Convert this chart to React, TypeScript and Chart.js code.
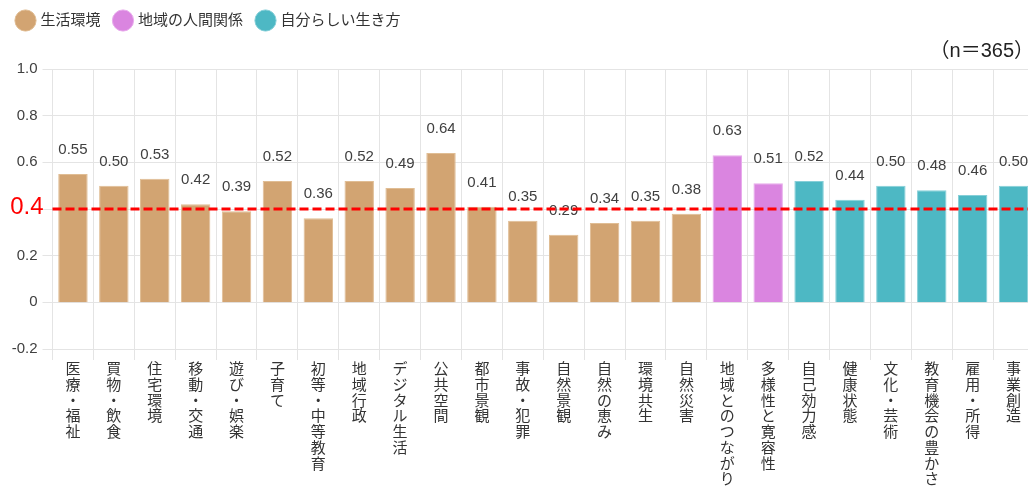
import React, { useEffect, useRef } from "react";
import { Chart, registerables } from "chart.js";

Chart.register(...registerables);

// ---- data ----
const seriesNames = ["生活環境", "地域の人間関係", "自分らしい生き方"];
const lifeCategories = [
  "医療・福祉", "買物・飲食", "住宅環境", "移動・交通", "遊び・娯楽", "子育て",
  "初等・中等教育", "地域行政", "デジタル生活", "公共空間", "都市景観", "事故・犯罪",
  "自然景観", "自然の恵み", "環境共生", "自然災害",
];
const lifeValues = [0.55, 0.5, 0.53, 0.42, 0.39, 0.52, 0.36, 0.52, 0.49, 0.64, 0.41, 0.35, 0.29, 0.34, 0.35, 0.38];
const relationCategories = ["地域とのつながり", "多様性と寛容性"];
const relationValues = [0.63, 0.51];
const selfCategories = ["自己効力感", "健康状態", "文化・芸術", "教育機会の豊かさ", "雇用・所得", "事業創造"];
const selfValues = [0.52, 0.44, 0.5, 0.48, 0.46, 0.5];
const seriesColors = ["#D2A472", "#DA85E0", "#4DB8C4"];
const seriesBorders = ["#E0BD94", "#E8ABEC", "#86CFD8"];
const thresholdValue = 0.4;
const sampleNote = "（n＝365）";
const yMin = -0.2;
const yMax = 1.0;
const yStep = 0.2;

const FONT = '"Liberation Sans", "Noto Sans CJK JP", sans-serif';

export default function App() {
  const canvasRef = useRef<HTMLCanvasElement | null>(null);

  useEffect(() => {
    if (!canvasRef.current) return;
    const categories = [...lifeCategories, ...relationCategories, ...selfCategories];
    const groups = [lifeValues, relationValues, selfValues];
    const offsets = [0, lifeValues.length, lifeValues.length + relationValues.length];
    const datasets = groups.map((vals, gi) => {
      const data: (number | null)[] = categories.map(() => null);
      vals.forEach((v, i) => {
        data[offsets[gi] + i] = v;
      });
      return {
        label: seriesNames[gi],
        data,
        backgroundColor: seriesColors[gi],
        borderColor: seriesBorders[gi],
        borderWidth: 1,
        grouped: false,
        categoryPercentage: 0.8,
        barPercentage: 0.9,
      };
    });

    const overlay = {
      id: "overlay",
      afterDatasetsDraw(chart: any) {
        const ctx = chart.ctx;
        ctx.save();
        // value labels
        ctx.font = `15px ${FONT}`;
        ctx.fillStyle = "#404040";
        ctx.textAlign = "center";
        ctx.textBaseline = "middle";
        chart.data.datasets.forEach((ds: any, di: number) => {
          const meta = chart.getDatasetMeta(di);
          meta.data.forEach((bar: any, i: number) => {
            const v = ds.data[i];
            if (v === null || v === undefined) return;
            ctx.fillText(v.toFixed(2), bar.x, bar.y - 24);
          });
        });
        // threshold line
        const y = chart.scales.y.getPixelForValue(thresholdValue);
        const { left, right } = chart.chartArea;
        ctx.strokeStyle = "#FF0000";
        ctx.lineWidth = 3;
        ctx.setLineDash([9, 4]);
        ctx.beginPath();
        ctx.moveTo(left, y);
        ctx.lineTo(right, y);
        ctx.stroke();
        ctx.setLineDash([]);
        // red threshold label
        ctx.font = `24px ${FONT}`;
        ctx.fillStyle = "#FF0000";
        ctx.textAlign = "right";
        ctx.textBaseline = "middle";
        ctx.fillText(String(thresholdValue), left - 9, y - 2);
        ctx.restore();
      },
    };

    const chart = new Chart(canvasRef.current, {
      type: "bar",
      data: {
        labels: categories.map((c) => Array.from(c)),
        datasets: datasets as any,
      },
      options: {
        animation: false,
        responsive: false,
        layout: { padding: { left: 3, right: 6, top: -2, bottom: 0 } },
        plugins: {
          legend: {
            position: "top",
            align: "start",
            labels: {
              usePointStyle: true,
              pointStyle: "circle",
              padding: 15,
              color: "#333333",
              font: { size: 15, family: FONT },
            },
          },
          title: {
            display: true,
            text: sampleNote,
            align: "end",
            color: "#222222",
            font: { size: 20, family: FONT, lineHeight: 1, weight: "normal" },
            padding: { top: 3, bottom: 8 },
            weight: 500,
          } as any,
          tooltip: { enabled: false },
        },
        scales: {
          x: {
            grid: { color: "#E4E4E4", tickLength: 11, offset: true },
            border: { color: "#E4E4E4" },
            ticks: {
              autoSkip: false,
              maxRotation: 0,
              minRotation: 0,
              padding: 2,
              color: "#333333",
              font: { size: 15, family: FONT, lineHeight: 1.05 },
            },
            afterFit: (s: any) => {
              s.height = 138;
            },
          },
          y: {
            min: yMin,
            max: yMax,
            grid: { color: "#E4E4E4", tickLength: 10 },
            border: { color: "#E4E4E4" },
            ticks: {
              stepSize: yStep,
              padding: 5,
              color: "#404040",
              font: { size: 15, family: FONT },
              callback: (v: any) => {
                const n = Number(v);
                if (Math.abs(n - thresholdValue) < 1e-6) return "";
                if (Math.abs(n) < 1e-9) return "0";
                return n.toFixed(1);
              },
            },
            afterFit: (s: any) => {
              s.width = 49.5;
            },
          },
        },
      },
      plugins: [overlay],
    });
    return () => chart.destroy();
  }, []);

  return (
    <div
      style={{
        position: "fixed",
        left: 0,
        top: 0,
        width: 1028,
        height: 487,
        overflow: "hidden",
        background: "#ffffff",
      }}
    >
      <canvas ref={canvasRef} width={1040} height={487} style={{ width: 1040, height: 487, display: "block" }} />
    </div>
  );
}
